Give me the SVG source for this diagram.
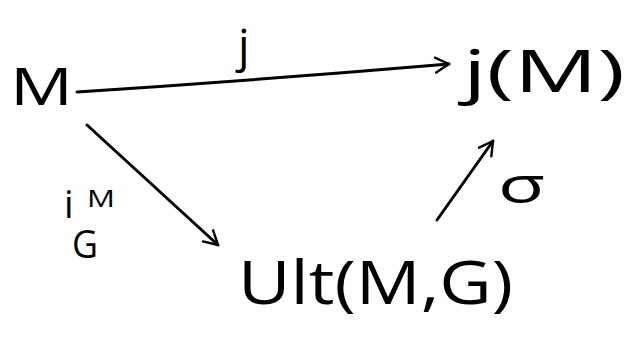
<svg xmlns="http://www.w3.org/2000/svg" width="637" height="338" viewBox="0 0 637 338">
<style>
.t{font-family:"Open Sans","DejaVu Sans",sans-serif;font-weight:400;fill:#000}
.c{fill:none;stroke:#000;stroke-width:3;stroke-linecap:round;stroke-linejoin:round}
</style>
<defs>
<marker id="ah" viewBox="0 0 12 12" refX="10" refY="6" markerWidth="6" markerHeight="6" markerUnits="strokeWidth" orient="auto">
<path d="M1,1 L10,6 L1,11" fill="none" stroke="#000" stroke-width="1.6" stroke-linecap="round" stroke-linejoin="round"/>
</marker>
</defs>
<rect width="637" height="338" fill="#fff"/>
<g id="connectors">
<path class="c" d="M77,92 Q260,80 449,64" marker-end="url(#ah)"/>
<path class="c" d="M87,125 L218,245" marker-end="url(#ah)"/>
<path class="c" d="M437,220 L493,141" marker-end="url(#ah)"/>
</g>
<g id="node-M">
<text class="t" x="10" y="105" font-size="52" textLength="63" lengthAdjust="spacingAndGlyphs">M</text>
</g>
<g id="node-jM">
<text class="t" x="463" y="92" font-size="58" textLength="162" lengthAdjust="spacingAndGlyphs">j(M)</text>
</g>
<g id="node-Ult">
<text class="t" x="238" y="304" font-size="60" textLength="275" lengthAdjust="spacingAndGlyphs">Ult(M,G)</text>
</g>
<g id="label-j">
<text class="t" x="238" y="62" font-size="46">j</text>
</g>
<g id="label-iMG">
<text class="t" x="64" y="218" font-size="38">i</text>
<text class="t" x="87" y="207" font-size="24" textLength="28" lengthAdjust="spacingAndGlyphs">M</text>
<text class="t" x="72" y="258" font-size="38" textLength="26" lengthAdjust="spacingAndGlyphs">G</text>
</g>
<g id="label-sigma">
<text class="t" x="498" y="203" font-size="52" textLength="47" lengthAdjust="spacingAndGlyphs">σ</text>
</g>
</svg>
